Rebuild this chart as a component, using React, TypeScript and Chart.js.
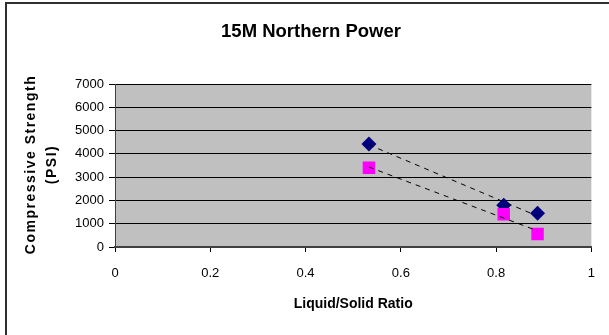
import React, { useEffect, useRef } from "react";
import { Chart, registerables } from "chart.js";

Chart.register(...registerables);

const chartTitle = "15M Northern Power";
const xAxisTitle = "Liquid/Solid Ratio";
const yAxisTitleLines = ["Compressive Strength", "(PSI)"];

const ratioValues = [0.533, 0.816, 0.887];
const seriesDiamond = [4420, 1790, 1450];
const seriesSquare = [3400, 1410, 560];

const xTickMin = 0;
const xTickMax = 1;
const xTickStep = 0.2;
const yTickMin = 0;
const yTickMax = 7000;
const yTickStep = 1000;

function linearFit(xs: number[], ys: number[]) {
  const n = xs.length;
  const mx = xs.reduce((a, b) => a + b, 0) / n;
  const my = ys.reduce((a, b) => a + b, 0) / n;
  let sxy = 0;
  let sxx = 0;
  for (let i = 0; i < n; i++) {
    sxy += (xs[i] - mx) * (ys[i] - my);
    sxx += (xs[i] - mx) * (xs[i] - mx);
  }
  const slope = sxy / sxx;
  const icpt = my - slope * mx;
  const x0 = Math.min(...xs);
  const x1 = Math.max(...xs);
  return [
    { x: x0, y: icpt + slope * x0 },
    { x: x1, y: icpt + slope * x1 },
  ];
}

const FONT = "Arial, 'Liberation Sans', sans-serif";

const decorPlugin = {
  id: "decor",
  beforeDraw(chart: any) {
    const { ctx, chartArea } = chart;
    ctx.save();
    ctx.fillStyle = "#ffffff";
    ctx.fillRect(0, 0, chart.width, chart.height);
    ctx.fillStyle = "#C0C0C0";
    ctx.fillRect(
      chartArea.left,
      chartArea.top,
      chartArea.right - chartArea.left,
      chartArea.bottom - chartArea.top
    );
    ctx.restore();
  },
  afterDraw(chart: any) {
    const { ctx, chartArea } = chart;
    ctx.save();
    // outer frame (left & top)
    ctx.strokeStyle = "#303030";
    ctx.lineWidth = 2;
    ctx.beginPath();
    ctx.moveTo(6, chart.height + 2);
    ctx.lineTo(6, 3);
    ctx.lineTo(chart.width + 2, 3);
    ctx.stroke();

    // title
    ctx.fillStyle = "#000";
    ctx.textAlign = "center";
    ctx.textBaseline = "alphabetic";
    ctx.font = `bold 18.5px ${FONT}`;
    ctx.fillText(chartTitle, 311, 37);

    // x title
    ctx.font = `bold 14px ${FONT}`;
    ctx.fillText(xAxisTitle, (chartArea.left + chartArea.right) / 2, 308);

    // y title
    const cy = (chartArea.top + chartArea.bottom) / 2;
    ctx.font = `bold 14px ${FONT}`;
    (ctx as any).letterSpacing = "1.5px";
    const baselines = [35, 56];
    yAxisTitleLines.forEach((line, i) => {
      ctx.save();
      ctx.translate(baselines[i], cy);
      ctx.rotate(-Math.PI / 2);
      ctx.textAlign = "center";
      ctx.fillText(line, 1, 0);
      ctx.restore();
    });
    (ctx as any).letterSpacing = "0px";
    ctx.restore();
  },
};

export default function App() {
  const ref = useRef<HTMLCanvasElement>(null);
  useEffect(() => {
    if (!ref.current) return;
    const trendDiamond = linearFit(ratioValues, seriesDiamond);
    const trendSquare = linearFit(ratioValues, seriesSquare);
    const chart = new Chart(ref.current, {
      type: "scatter",
      data: {
        datasets: [
          {
            type: "line",
            label: "trend1",
            data: trendDiamond,
            borderColor: "#000",
            borderWidth: 1,
            borderDash: [5, 5],
            pointRadius: 0,
            fill: false,
            order: 0,
          } as any,
          {
            type: "line",
            label: "trend2",
            data: trendSquare,
            borderColor: "#000",
            borderWidth: 1,
            borderDash: [5, 5],
            pointRadius: 0,
            fill: false,
            order: 0,
          } as any,
          {
            label: "Series1",
            data: ratioValues.map((x, i) => ({ x, y: seriesDiamond[i] })),
            pointStyle: "rectRot",
            pointRadius: 7.5,
            backgroundColor: "#000080",
            borderColor: "#000080",
            borderWidth: 0,
            order: 2,
          },
          {
            label: "Series2",
            data: ratioValues.map((x, i) => ({ x, y: seriesSquare[i] })),
            pointStyle: "rect",
            pointRadius: 8.8,
            backgroundColor: "#FF00FF",
            borderColor: "#FF00FF",
            borderWidth: 0,
            order: 1,
          },
        ],
      },
      options: {
        responsive: false,
        animation: false,
        devicePixelRatio: 1,
        layout: { padding: { left: 0, right: 15, top: 84, bottom: 0 } },
        plugins: {
          legend: { display: false },
          title: { display: false },
          tooltip: { enabled: false },
        },
        scales: {
          x: {
            type: "linear",
            min: xTickMin,
            max: xTickMax,
            afterFit: (s: any) => {
              s.height = 88;
            },
            ticks: {
              stepSize: xTickStep,
              color: "#000",
              font: { family: FONT, size: 13 },
              padding: 14,
              maxRotation: 0,
              callback: (v: any) => String(Math.round(Number(v) * 10) / 10),
            },
            grid: {
              drawOnChartArea: false,
              drawTicks: true,
              tickLength: 5,
              color: "#000",
            },
            border: { display: true, color: "#404040", width: 2 },
          },
          y: {
            type: "linear",
            min: yTickMin,
            max: yTickMax,
            afterFit: (s: any) => {
              s.width = 115;
            },
            ticks: {
              stepSize: yTickStep,
              color: "#000",
              font: { family: FONT, size: 13 },
              padding: 5,
              callback: (v: any) => String(Math.round(Number(v))),
            },
            grid: {
              color: "#000",
              lineWidth: 1,
              drawTicks: true,
              tickLength: 6,
            },
            border: { display: true, color: "#404040", width: 1 },
          },
        },
      },
      plugins: [decorPlugin],
    });
    return () => chart.destroy();
  }, []);
  return (
    <div style={{ position: "absolute", left: 0, top: 0, width: 609, height: 335 }}>
      <canvas ref={ref} width={609} height={335} />
    </div>
  );
}
